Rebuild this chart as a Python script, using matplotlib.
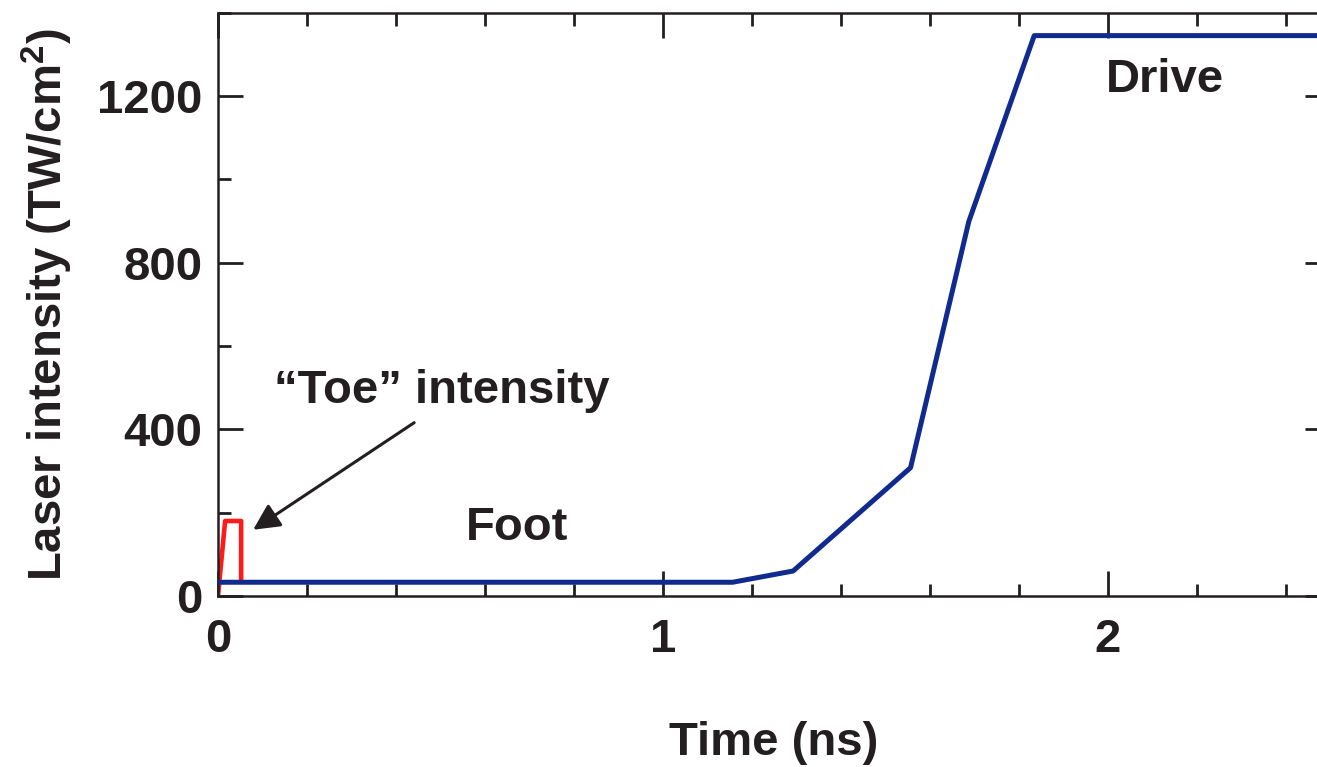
import matplotlib
matplotlib.use("Agg")
import matplotlib.pyplot as plt
from matplotlib.ticker import MultipleLocator

# pulse shape (ns, TW/cm^2)
drive_t = [0.0, 1.157, 1.293, 1.557, 1.688, 1.835, 2.5]
drive_i = [33, 33, 60, 308, 899, 1345, 1345]

toe_t = [0.0, 0.016, 0.052, 0.052]
toe_i = [0, 180, 180, 36]

ink = "#231F20"
plt.rcParams['font.family'] = ['Liberation Sans', 'DejaVu Sans']
plt.rcParams['font.weight'] = 'bold'
plt.rcParams['axes.labelweight'] = 'bold'
plt.rcParams['font.size'] = 34
plt.rcParams['mathtext.fontset'] = 'custom'
plt.rcParams['mathtext.rm'] = 'Liberation Sans:bold'
plt.rcParams['mathtext.bf'] = 'Liberation Sans:bold'
plt.rcParams['mathtext.default'] = 'bf'

fig = plt.figure(figsize=(13.17, 7.67), dpi=100)
ax = fig.add_axes([218 / 1317, 171 / 767, 1112 / 1317, 583.3 / 767])

ax.plot(toe_t, toe_i, color="#FF1A1A", lw=3.3, solid_joinstyle='round', zorder=2)
ax.plot(drive_t, drive_i, color="#102A8E", lw=3.6, zorder=3)

ax.set_xlim(0, 2.5)
ax.set_ylim(0, 1400)
ax.xaxis.set_major_locator(MultipleLocator(1))
ax.xaxis.set_minor_locator(MultipleLocator(0.2))
ax.yaxis.set_major_locator(MultipleLocator(400))
ax.yaxis.set_minor_locator(MultipleLocator(200))
ax.tick_params(which='both', direction='in', top=True, right=True, color=ink,
               labelcolor=ink, width=2)
ax.tick_params(which='major', length=18)
ax.tick_params(which='minor', length=9)
ax.tick_params(axis='x', pad=16)
ax.tick_params(axis='y', pad=11)
for s in ax.spines.values():
    s.set_linewidth(1.8)
    s.set_color(ink)

ax.set_xlabel("Time (ns)", color=ink, labelpad=42, fontweight='bold')
ax.set_ylabel("Laser intensity (TW/cm$^2$)", color=ink, labelpad=16, fontweight='bold')

ax.text(0.504, 464, "\u201cToe\u201d intensity", ha='center', va='baseline', color=ink)
ax.text(0.673, 135, "Foot", ha='center', va='baseline', color=ink)
ax.text(2.129, 1209, "Drive", ha='center', va='baseline', color=ink)
ax.annotate("", xy=(0.079, 159), xytext=(0.441, 416),
            arrowprops=dict(arrowstyle='-|>', color=ink, lw=2.2, mutation_scale=40,
                            shrinkA=0, shrinkB=0))

fig.savefig("out.png", dpi=100)
